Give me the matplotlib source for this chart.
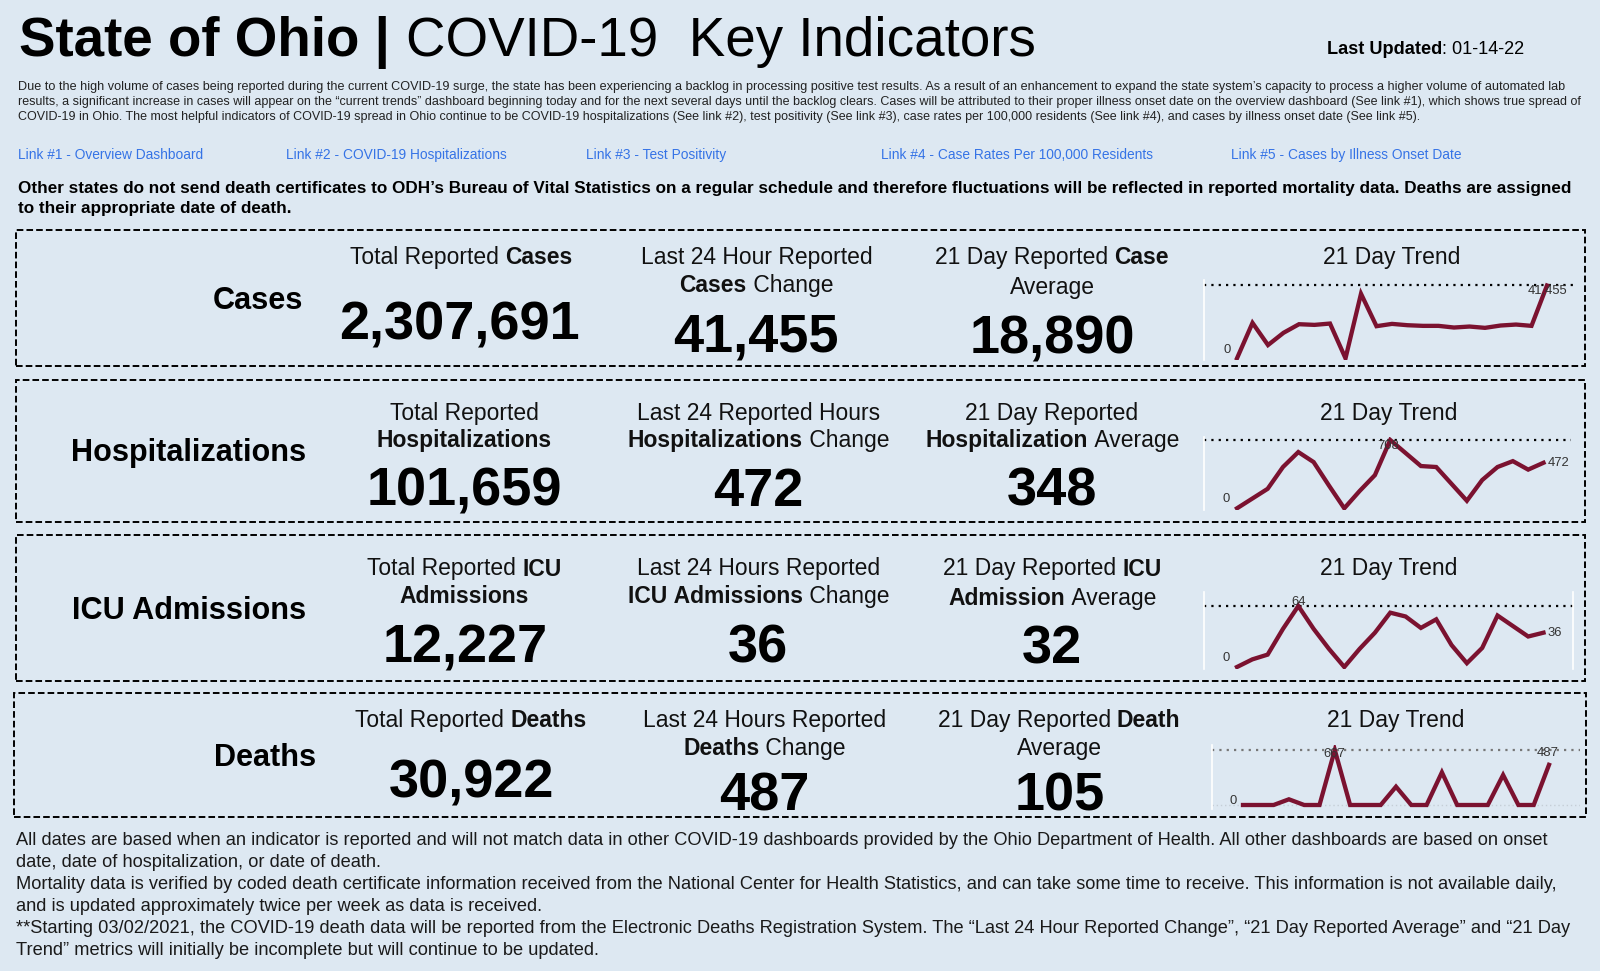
import matplotlib
matplotlib.use("Agg")
import matplotlib.pyplot as plt
from matplotlib.patches import Rectangle

W, H = 1600, 971
BG = "#dde8f2"
FONT = "Liberation Sans"
plt.rcParams["font.family"] = [FONT, "DejaVu Sans"]

# ---------- data ----------
row_names = ["Cases", "Hospitalizations", "ICU Admissions", "Deaths"]
total_values = ["2,307,691", "101,659", "12,227", "30,922"]
change_values = ["41,455", "472", "36", "487"]
average_values = ["18,890", "348", "32", "105"]
cases_trend = [0, 20160, 7540, 14510, 19410, 19030, 19790, 0, 36750, 18280, 19600,
               18840, 18470, 18470, 17520, 18090, 17340, 18660, 19220, 18470, 41455]
hosp_trend = [0, 101, 202, 428, 583, 479, 236, 0, 179, 344, 708,
              573, 438, 428, 253, 78, 293, 428, 489, 401, 472]
icu_trend = [0, 8, 13, 40, 64, 40, 19, 0, 19, 36, 57,
             53, 41, 50, 23, 4, 20, 54, 43, 32, 36]
death_trend = [0, 0, 0, 69, 0, 0, 667, 0, 0, 0, 222,
               0, 0, 396, 0, 0, 0, 364, 0, 0, 487]

title_bold = "State of Ohio | "
title_reg = "COVID-19  Key Indicators"
para_lines = [
    "Due to the high volume of cases being reported during the current COVID-19 surge, the state has been experiencing a backlog in processing positive test results. As a result of an enhancement to expand the state system\u2019s capacity to process a higher volume of automated lab",
    "results, a significant increase in cases will appear on the \u201ccurrent trends\u201d dashboard beginning today and for the next several days until the backlog clears. Cases will be attributed to their proper illness onset date on the overview dashboard (See link #1), which shows true spread of",
    "COVID-19 in Ohio. The most helpful indicators of COVID-19 spread in Ohio continue to be COVID-19 hospitalizations (See link #2), test positivity (See link #3), case rates per 100,000 residents (See link #4), and cases by illness onset date (See link #5).",
]
link_labels = ["Link #1 - Overview Dashboard", "Link #2 - COVID-19 Hospitalizations", "Link #3 - Test Positivity",
               "Link #4 - Case Rates Per 100,000 Residents", "Link #5 - Cases by Illness Onset Date"]
bold_lines = [
    "Other states do not send death certificates to ODH\u2019s Bureau of Vital Statistics on a regular schedule and therefore fluctuations will be reflected in reported mortality data. Deaths are assigned",
    "to their appropriate date of death.",
]
foot_lines = [
    "All dates are based when an indicator is reported and will not match data in other COVID-19 dashboards provided by the Ohio Department of Health. All other dashboards are based on onset",
    "date, date of hospitalization, or date of death.",
    "Mortality data is verified by coded death certificate information received from the National Center for Health Statistics, and can take some time to receive. This information is not available daily,",
    "and is updated approximately twice per week as data is received.",
    "**Starting 03/02/2021, the COVID-19 death data will be reported from the Electronic Deaths Registration System. The \u201cLast 24 Hour Reported Change\u201d, \u201c21 Day Reported Average\u201d and \u201c21 Day",
    "Trend\u201d metrics will initially be incomplete but will continue to be updated.",
]
# header cells: lines of (text, bold) runs
headers = [
    [[[("Total Reported ", 0), ("Cases", 1)]],
     [[("Last 24 Hour Reported", 0)], [("Cases", 1), (" Change", 0)]],
     [[("21 Day Reported ", 0), ("Case", 1)], [("Average", 0)]]],
    [[[("Total Reported", 0)], [("Hospitalizations", 1)]],
     [[("Last 24 Reported Hours", 0)], [("Hospitalizations", 1), (" Change", 0)]],
     [[("21 Day Reported", 0)], [("Hospitalization", 1), (" Average", 0)]]],
    [[[("Total Reported ", 0), ("ICU", 1)], [("Admissions", 1)]],
     [[("Last 24 Hours Reported", 0)], [("ICU Admissions", 1), (" Change", 0)]],
     [[("21 Day Reported ", 0), ("ICU", 1)], [("Admission", 1), (" Average", 0)]]],
    [[[("Total Reported ", 0), ("Deaths", 1)]],
     [[("Last 24 Hours Reported", 0)], [("Deaths", 1), (" Change", 0)]],
     [[("21 Day Reported ", 0), ("Death", 1)], [("Average", 0)]]],
]

# ---------- layout (pixels) ----------
fig = plt.figure(figsize=(W / 100, H / 100), dpi=100, facecolor=BG)
renderer = fig.canvas.get_renderer()


def px(x, y, s, **kw):
    kw.setdefault("va", "baseline")
    kw.setdefault("color", "black")
    return fig.text(x / W, 1 - y / H, s, **kw)


def runs(x, y, parts, size, ha="left", color="black"):
    widths = []
    for s, b in parts:
        t = px(0, 0, s.replace(" ", "\u00a0"), fontsize=size, fontweight="bold" if b else "normal")
        widths.append(t.get_window_extent(renderer).width)
        t.remove()
    if ha == "center":
        x -= sum(widths) / 2
    for (s, b), w in zip(parts, widths):
        px(x, y, s.replace(" ", "\u00a0"), fontsize=size, fontweight="bold" if b else "normal", color=color)
        x += w


runs(19, 56, [(title_bold, 1)], 39.4)
runs(406, 56, [(title_reg, 0)], 39.4)
runs(1327, 54.5, [("Last Updated", 1), (": 01-14-22", 0)], 13.1)

for y, s, fs in zip([90, 105, 120], para_lines, [9.07, 8.98, 8.98]):
    px(18.5, y, s, fontsize=fs, color="#222222")
for x, s in zip([18, 286, 586, 881, 1231], link_labels):
    px(x, 159, s, fontsize=9.9, color="#3573e6")
for y, s in zip([193, 213.5], bold_lines):
    px(18.5, y, s, fontsize=12.3, fontweight="bold")
for y, s in zip([845, 866.5, 888.7, 910.7, 932.7, 954.7], foot_lines):
    px(16, y, s, fontsize=13.14, color="#1a1a1a")

boxes = [(15.5, 230, 1585, 366), (15.5, 380, 1585, 522), (15.5, 535, 1585, 681), (14, 693, 1586, 817)]
for x0, y0, x1, y1 in boxes:
    fig.add_artist(Rectangle((x0 / W, 1 - y1 / H), (x1 - x0) / W, (y1 - y0) / H, transform=fig.transFigure,
                             fill=False, ec="black", lw=1.4, ls=(0, (3.4, 1.6))))

label_pos = [(303, 309), (306.5, 461), (306.5, 619), (316, 766)]
for (x, y), s in zip(label_pos, row_names):
    px(x, y, s, fontsize=22.1, fontweight="bold", ha="right")

col_x = [[459, 756, 1052], [464, 758, 1052], [465, 758, 1052], [471, 764, 1060]]
head_y = [[[264], [264, 292], [264, 294]], [[419.5, 447]] * 3, [[575.5, 603], [575.5, 603], [575.5, 605]],
          [[727], [727, 755], [727, 755]]]
num_y = [[339, 351, 353], [506, 506, 506], [662, 662, 664], [797, 810, 810]]
head_col = [[461, 756.5, 1052], [464, 758.5, 1052], [464, 758.5, 1052], [471, 764.5, 1059]]
for r in range(4):
    vals = [total_values[r], change_values[r], average_values[r]]
    for c in range(3):
        for y, parts in zip(head_y[r][c], headers[r][c]):
            runs(head_col[r][c], y, parts, 16.5, ha="center", color="#111111")
        px(col_x[r][c], num_y[r][c], vals[c], fontsize=39, fontweight="bold", ha="center")

trend_title = [(1391.5, 264), (1388.5, 419.5), (1388.5, 575.5), (1395.5, 727)]
for x, y in trend_title:
    px(x, y, "21 Day Trend", fontsize=16.5, ha="center", color="#111111")

LINE = "#7b1230"
spark = [
    dict(v=cases_trend, box=(1204, 1578, 280, 360), x0=1237, x1=1547, yb=358.3, yt=285.5,
         labels=[(0, "0", -10, 8, "center"), (20, "41,455", 0, -5, "center")], right=False),
    dict(v=hosp_trend, box=(1204, 1571, 437, 510), x0=1237, x1=1543.5, yb=508.3, yt=440,
         labels=[(0, "0", -11, 9, "center"), (10, "708", -2, -6, "center"), (20, "472", 4, 0, "left")], right=False),
    dict(v=icu_trend, box=(1204, 1573, 592, 669), x0=1237, x1=1543.5, yb=667, yt=606,
         labels=[(0, "0", -11, 9, "center"), (4, "64", 0, 4, "center"), (20, "36", 4, 0, "left")], right=True),
    dict(v=death_trend, box=(1212, 1580, 745, 809), x0=1243, x1=1549, yb=805, yt=750,
         labels=[(0, "0", -10, 4, "center"), (6, "667", -1, -4, "center"), (20, "487", -1, 12, "center")], right=False),
]
for k, sp in enumerate(spark):
    l, r_, t, b = sp["box"]
    ax = fig.add_axes([l / W, 1 - b / H, (r_ - l) / W, (b - t) / H], facecolor="none")
    vmax = max(sp["v"])
    n = len(sp["v"]) - 1
    step = (sp["x1"] - sp["x0"]) / n
    ax.set_xlim((l - sp["x0"]) / step, (r_ - sp["x0"]) / step)
    unit = vmax / (sp["yb"] - sp["yt"])
    ax.set_ylim((sp["yb"] - b) * unit, (sp["yb"] - t) * unit)
    ax.set_xticks([])
    ax.set_yticks([])
    for name, s in ax.spines.items():
        s.set_visible(False)
    ax.spines["left"].set_visible(True)
    ax.spines["left"].set_color("white")
    ax.spines["left"].set_linewidth(1.2)
    if sp["right"]:
        ax.spines["right"].set_visible(True)
        ax.spines["right"].set_color("white")
        ax.spines["right"].set_linewidth(1.2)
    dot_c = "#777777" if k == 3 else "black"
    ax.axhline(vmax, color=dot_c, lw=1.6, ls=(0, (1, 2.3)), zorder=1)
    if k == 3:
        ax.axhline(0, color="#c5ced6", lw=1.0, ls=(0, (1, 2)), zorder=1)
    ax.plot(range(n + 1), sp["v"], color=LINE, lw=3.1, solid_joinstyle="miter", zorder=3)
    for i, s, dx, dy, ha in sp["labels"]:
        ax.annotate(s, (i, sp["v"][i]), xytext=(dx, dy), textcoords="offset pixels", ha=ha, va="center",
                    fontsize=9.4, color="#333333", zorder=4, annotation_clip=False)

fig.savefig("out.png", dpi=100, facecolor=BG)
